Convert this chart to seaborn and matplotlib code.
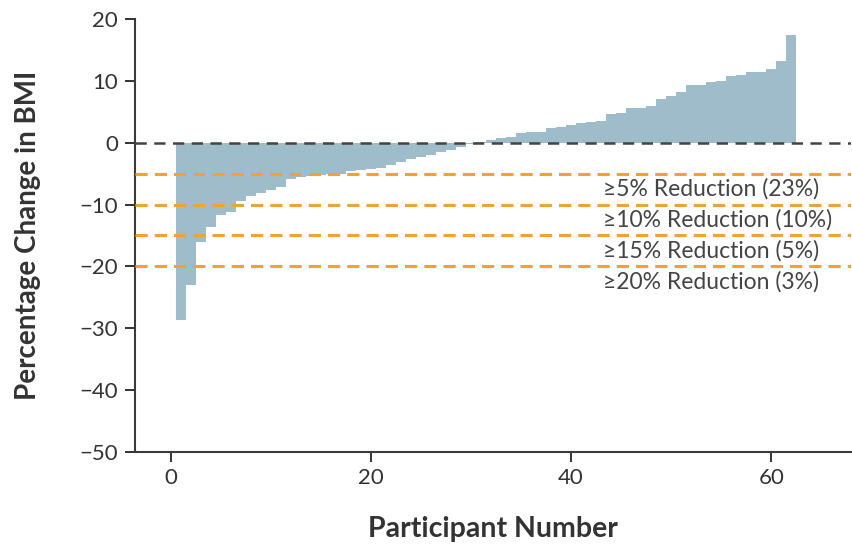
import matplotlib
matplotlib.use("Agg")
import matplotlib.pyplot as plt
import seaborn as sns
import numpy as np

# percentage change in BMI per participant, sorted (waterfall)
participants = list(range(1, 63))
bmi_change = [-28.7, -23.0, -16.1, -13.7, -11.7, -11.2, -9.4, -8.6, -8.2, -7.7,
              -7.2, -5.8, -5.5, -5.3, -5.2, -5.1, -5.0, -4.6, -4.4, -4.2,
              -4.0, -3.6, -3.1, -2.6, -2.3, -1.9, -1.5, -1.1, -0.7, -0.2,
              0.2, 0.5, 0.7, 0.9, 1.6, 1.8, 1.8, 2.4, 2.6, 2.9,
              3.2, 3.45, 3.6, 4.6, 4.9, 5.6, 5.6, 6.0, 7.1, 7.6,
              8.3, 9.3, 9.4, 9.8, 10.0, 10.9, 11.0, 11.4, 11.5, 11.9,
              13.2, 17.4]

thresholds = [-5, -10, -15, -20]
threshold_labels = ["≥5% Reduction (23%)", "≥10% Reduction (10%)",
                    "≥15% Reduction (5%)", "≥20% Reduction (3%)"]

sns.set_style("ticks")
plt.rcParams['font.family'] = ['Lato', 'DejaVu Sans']
axis_col = "#3a3a3a"

fig = plt.figure(figsize=(8.53, 5.52), dpi=100)
ax = fig.add_axes([0.158, 0.182, 0.84, 0.783])

sns.barplot(x=participants, y=bmi_change, native_scale=True, width=1,
            color="#9fbccb", saturation=1, linewidth=0, ax=ax)

for t in thresholds:
    ax.axhline(t, color="#efa236", lw=2.2, ls=(0, (4, 2.3)), zorder=3)
ax.axhline(0, color="#444444", lw=1.8, ls=(0, (4.5, 3)), zorder=3)

for t, lab in zip(thresholds, threshold_labels):
    ax.text(43.2, t - 2.5, lab, fontsize=16.5, color="#444444",
            ha="left", va="center", family=['Lato', 'DejaVu Sans'])

ax.set_xlim(-3.6, 68)
ax.set_ylim(-50, 20)
ax.set_xticks([0, 20, 40, 60])
ax.set_yticks(np.arange(-50, 21, 10))
ax.tick_params(labelsize=16, colors="#333333", length=7, width=1.4, pad=5)
for side in ["left", "bottom"]:
    ax.spines[side].set_color(axis_col)
    ax.spines[side].set_linewidth(1.5)
sns.despine(ax=ax)

ax.set_xlabel("Participant Number", fontsize=20.5, fontweight="bold",
              color="#333333", labelpad=20)
ax.set_ylabel("Percentage Change in BMI", fontsize=20, fontweight="bold",
              color="#333333", labelpad=28)

fig.savefig("out.png", dpi=100)
